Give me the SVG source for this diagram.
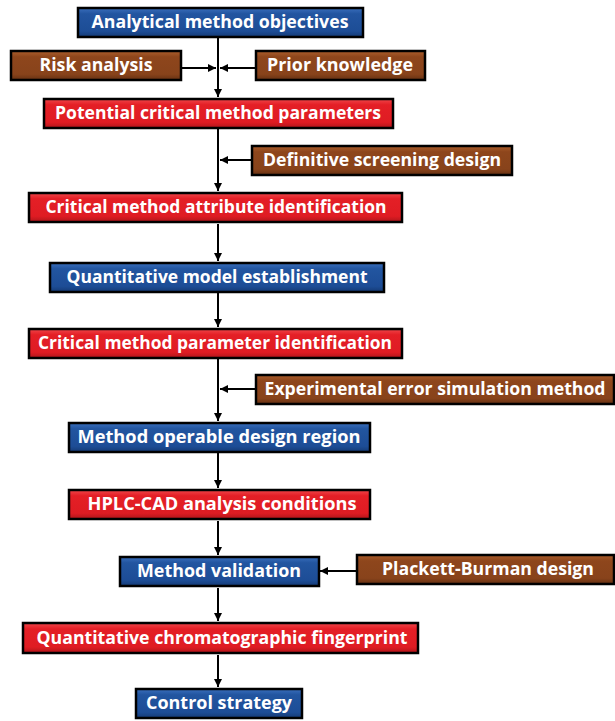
<svg xmlns="http://www.w3.org/2000/svg" width="615" height="721" viewBox="0 0 615 721">
<defs>
<linearGradient id="gBlue" x1="0" y1="0" x2="0" y2="1">
<stop offset="0" stop-color="#3a6fbd"/><stop offset="0.2" stop-color="#2255a0"/><stop offset="0.8" stop-color="#1d4d96"/><stop offset="1" stop-color="#143a75"/>
</linearGradient>
<linearGradient id="gRed" x1="0" y1="0" x2="0" y2="1">
<stop offset="0" stop-color="#f0474b"/><stop offset="0.2" stop-color="#e41f26"/><stop offset="0.8" stop-color="#df1c23"/><stop offset="1" stop-color="#b0151a"/>
</linearGradient>
<linearGradient id="gBrown" x1="0" y1="0" x2="0" y2="1">
<stop offset="0" stop-color="#ad5f2c"/><stop offset="0.2" stop-color="#8e461c"/><stop offset="0.8" stop-color="#88431b"/><stop offset="1" stop-color="#663112"/>
</linearGradient>
<marker id="arr" viewBox="0 0 10 10" refX="10" refY="5" markerWidth="4" markerHeight="4" orient="auto" markerUnits="strokeWidth">
<path d="M0,0 L10,5 L0,10 z" fill="#000"/>
</marker>
<style>
.box rect.b{stroke:#000;stroke-width:2.5}
.blue rect.b{fill:url(#gBlue)}
.red rect.b{fill:url(#gRed)}
.brown rect.b{fill:url(#gBrown)}
.box text{font-family:"Open Sans","Noto Sans","DejaVu Sans",sans-serif;font-weight:bold;font-size:17px;fill:#fff;text-anchor:middle}
#connectors path{stroke:#000;stroke-width:2;fill:none}
.arr{marker-end:url(#arr)}
</style>
</defs>

<g id="connectors">
<path class="arr" d="M218,38 V97"/>
<path class="arr" d="M182,68 H216"/>
<path class="arr" d="M255,68 H220"/>
<path class="arr" d="M218,129 V191"/>
<path class="arr" d="M252,160 H220"/>
<path class="arr" d="M218,224 V261"/>
<path class="arr" d="M218,293 V327"/>
<path class="arr" d="M218,359 V421"/>
<path class="arr" d="M255,389 H220"/>
<path class="arr" d="M218,453 V488"/>
<path class="arr" d="M218,521 V555"/>
<path class="arr" d="M356,571 H320"/>
<path class="arr" d="M218,588 V621"/>
<path class="arr" d="M218,655 V687"/>
</g>

<g id="n1" class="box blue"><rect class="b" x="78" y="8" width="285" height="29"/><text x="220" y="28" textLength="257" lengthAdjust="spacingAndGlyphs">Analytical method objectives</text></g>
<g id="n2" class="box brown"><rect class="b" x="11" y="51" width="170" height="29"/><text x="96" y="71" textLength="113" lengthAdjust="spacingAndGlyphs">Risk analysis</text></g>
<g id="n3" class="box brown"><rect class="b" x="256" y="51" width="169" height="29"/><text x="340" y="71" textLength="146" lengthAdjust="spacingAndGlyphs">Prior knowledge</text></g>
<g id="n4" class="box red"><rect class="b" x="44" y="99" width="349" height="29"/><text x="218" y="119" textLength="326" lengthAdjust="spacingAndGlyphs">Potential critical method parameters</text></g>
<g id="n5" class="box brown"><rect class="b" x="252" y="146" width="260" height="29"/><text x="382" y="166" textLength="238" lengthAdjust="spacingAndGlyphs">Definitive screening design</text></g>
<g id="n6" class="box red"><rect class="b" x="29" y="193" width="373" height="29"/><text x="216" y="213" textLength="341" lengthAdjust="spacingAndGlyphs">Critical method attribute identification</text></g>
<g id="n7" class="box blue"><rect class="b" x="50" y="263" width="334" height="29"/><text x="217" y="283" textLength="301" lengthAdjust="spacingAndGlyphs">Quantitative model establishment</text></g>
<g id="n8" class="box red"><rect class="b" x="29" y="329" width="373" height="29"/><text x="215" y="349" textLength="354" lengthAdjust="spacingAndGlyphs">Critical method parameter identification</text></g>
<g id="n9" class="box brown"><rect class="b" x="256" y="375" width="358" height="29"/><text x="435" y="395" textLength="341" lengthAdjust="spacingAndGlyphs">Experimental error simulation method</text></g>
<g id="n10" class="box blue"><rect class="b" x="69" y="423" width="301" height="29"/><text x="219" y="443" textLength="283" lengthAdjust="spacingAndGlyphs">Method operable design region</text></g>
<g id="n11" class="box red"><rect class="b" x="69" y="490" width="301" height="29"/><text x="222" y="510" textLength="269" lengthAdjust="spacingAndGlyphs">HPLC-CAD analysis conditions</text></g>
<g id="n12" class="box blue"><rect class="b" x="120" y="557" width="199" height="29"/><text x="219" y="577" textLength="164" lengthAdjust="spacingAndGlyphs">Method validation</text></g>
<g id="n13" class="box brown"><rect class="b" x="357" y="555" width="257" height="29"/><text x="488" y="575" textLength="212" lengthAdjust="spacingAndGlyphs">Plackett-Burman design</text></g>
<g id="n14" class="box red"><rect class="b" x="23" y="623" width="395" height="30"/><text x="222" y="644" textLength="371" lengthAdjust="spacingAndGlyphs">Quantitative chromatographic fingerprint</text></g>
<g id="n15" class="box blue"><rect class="b" x="136" y="689" width="166" height="29"/><text x="219" y="709" textLength="146" lengthAdjust="spacingAndGlyphs">Control strategy</text></g>
</svg>
